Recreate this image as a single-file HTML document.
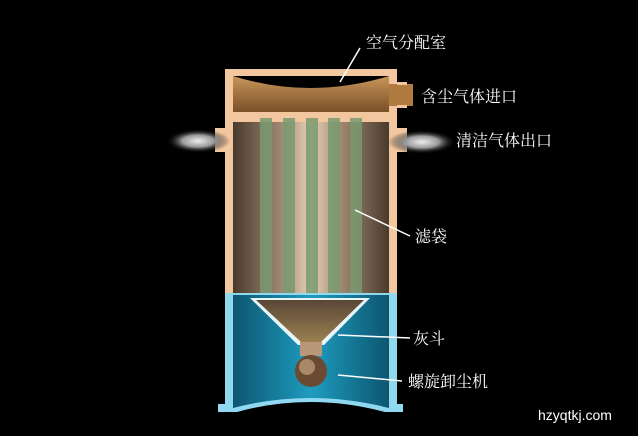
<!DOCTYPE html><html><head><meta charset="utf-8"><style>
body{margin:0;background:#000;width:638px;height:431px;overflow:hidden}
svg text{font-family:"Liberation Serif","Noto Serif CJK SC",serif;fill:#fff;font-size:16px}
</style></head><body>
<svg width="638" height="431" viewBox="0 0 638 431">
<defs>
<linearGradient id="top" x1="0" y1="0" x2="0" y2="1"><stop offset="0" stop-color="#c8955a"/><stop offset="1" stop-color="#7a5028"/></linearGradient>
<linearGradient id="body" x1="0" y1="0" x2="1" y2="0"><stop offset="0" stop-color="#4a3a2c"/><stop offset="0.3" stop-color="#9c8670"/><stop offset="0.5" stop-color="#e8d0b4"/><stop offset="0.7" stop-color="#9c8670"/><stop offset="1" stop-color="#4a3a2c"/></linearGradient>
<linearGradient id="blue" x1="0" y1="0" x2="1" y2="0"><stop offset="0" stop-color="#0d5670"/><stop offset="0.5" stop-color="#1e9cc0"/><stop offset="1" stop-color="#0d5670"/></linearGradient>
<linearGradient id="hop" x1="0" y1="0" x2="0" y2="1"><stop offset="0" stop-color="#5a4636"/><stop offset="1" stop-color="#9a8050"/></linearGradient>
<radialGradient id="puff"><stop offset="0" stop-color="#eee"/><stop offset="0.5" stop-color="#999"/><stop offset="1" stop-color="#000" stop-opacity="0"/></radialGradient>
</defs>
<rect x="225" y="69" width="172" height="50" fill="#f2c7a0"/>
<rect x="233" y="76" width="156" height="36" fill="url(#top)"/>
<path d="M233 76 Q310 100 389 76 Z" fill="#000"/>
<rect x="389" y="84" width="24" height="22" fill="#b07a40"/>
<rect x="397" y="82" width="10" height="3" fill="#f2c7a0"/><rect x="397" y="105" width="10" height="3" fill="#f2c7a0"/>
<rect x="225" y="119" width="172" height="176" fill="#f2c7a0"/>
<rect x="233" y="122" width="156" height="171" fill="url(#body)"/>
<g fill="#7a9a70" opacity="0.85">
<rect x="260" y="118" width="12" height="175"/><rect x="283" y="118" width="12" height="175"/><rect x="306" y="118" width="12" height="175"/><rect x="328" y="118" width="12" height="175"/><rect x="350" y="118" width="12" height="175"/>
</g>
<rect x="215" y="128" width="10" height="24" fill="#f2c7a0"/><rect x="397" y="128" width="10" height="24" fill="#f2c7a0"/>
<ellipse cx="198" cy="141" rx="32" ry="12" fill="url(#puff)"/>
<ellipse cx="422" cy="142" rx="34" ry="12" fill="url(#puff)"/>
<path d="M225 293 H397 V404 H403 V412 H385 Q310 392 237 412 H218 V404 H225 Z" fill="#8fd8f0"/>
<path d="M233 295 H389 V408 Q310 388 233 408 Z" fill="url(#blue)"/>
<path d="M250 298 H370 L324 345 H298 Z" fill="#e8f6fa"/>
<path d="M256 300 H364 L321 342 H301 Z" fill="url(#hop)"/>
<rect x="300" y="342" width="22" height="14" fill="#b89878"/>
<circle cx="311" cy="371" r="16" fill="#6a4a30"/>
<circle cx="307" cy="367" r="8" fill="#a88868"/>
<g stroke="#fff" stroke-width="1.5">
<line x1="340" y1="82" x2="360" y2="48"/>
<line x1="355" y1="210" x2="410" y2="236"/>
<line x1="338" y1="335" x2="410" y2="338"/>
<line x1="338" y1="375" x2="402" y2="381"/>
</g>
<text x="366" y="48">空气分配室</text>
<text x="421" y="102">含尘气体进口</text>
<text x="456" y="146">清洁气体出口</text>
<text x="415" y="242">滤袋</text>
<text x="413" y="344">灰斗</text>
<text x="408" y="387">螺旋卸尘机</text>
<text x="538" y="420" style="font-family:'Liberation Sans',sans-serif;font-size:14px">hzyqtkj.com</text>
</svg></body></html>
